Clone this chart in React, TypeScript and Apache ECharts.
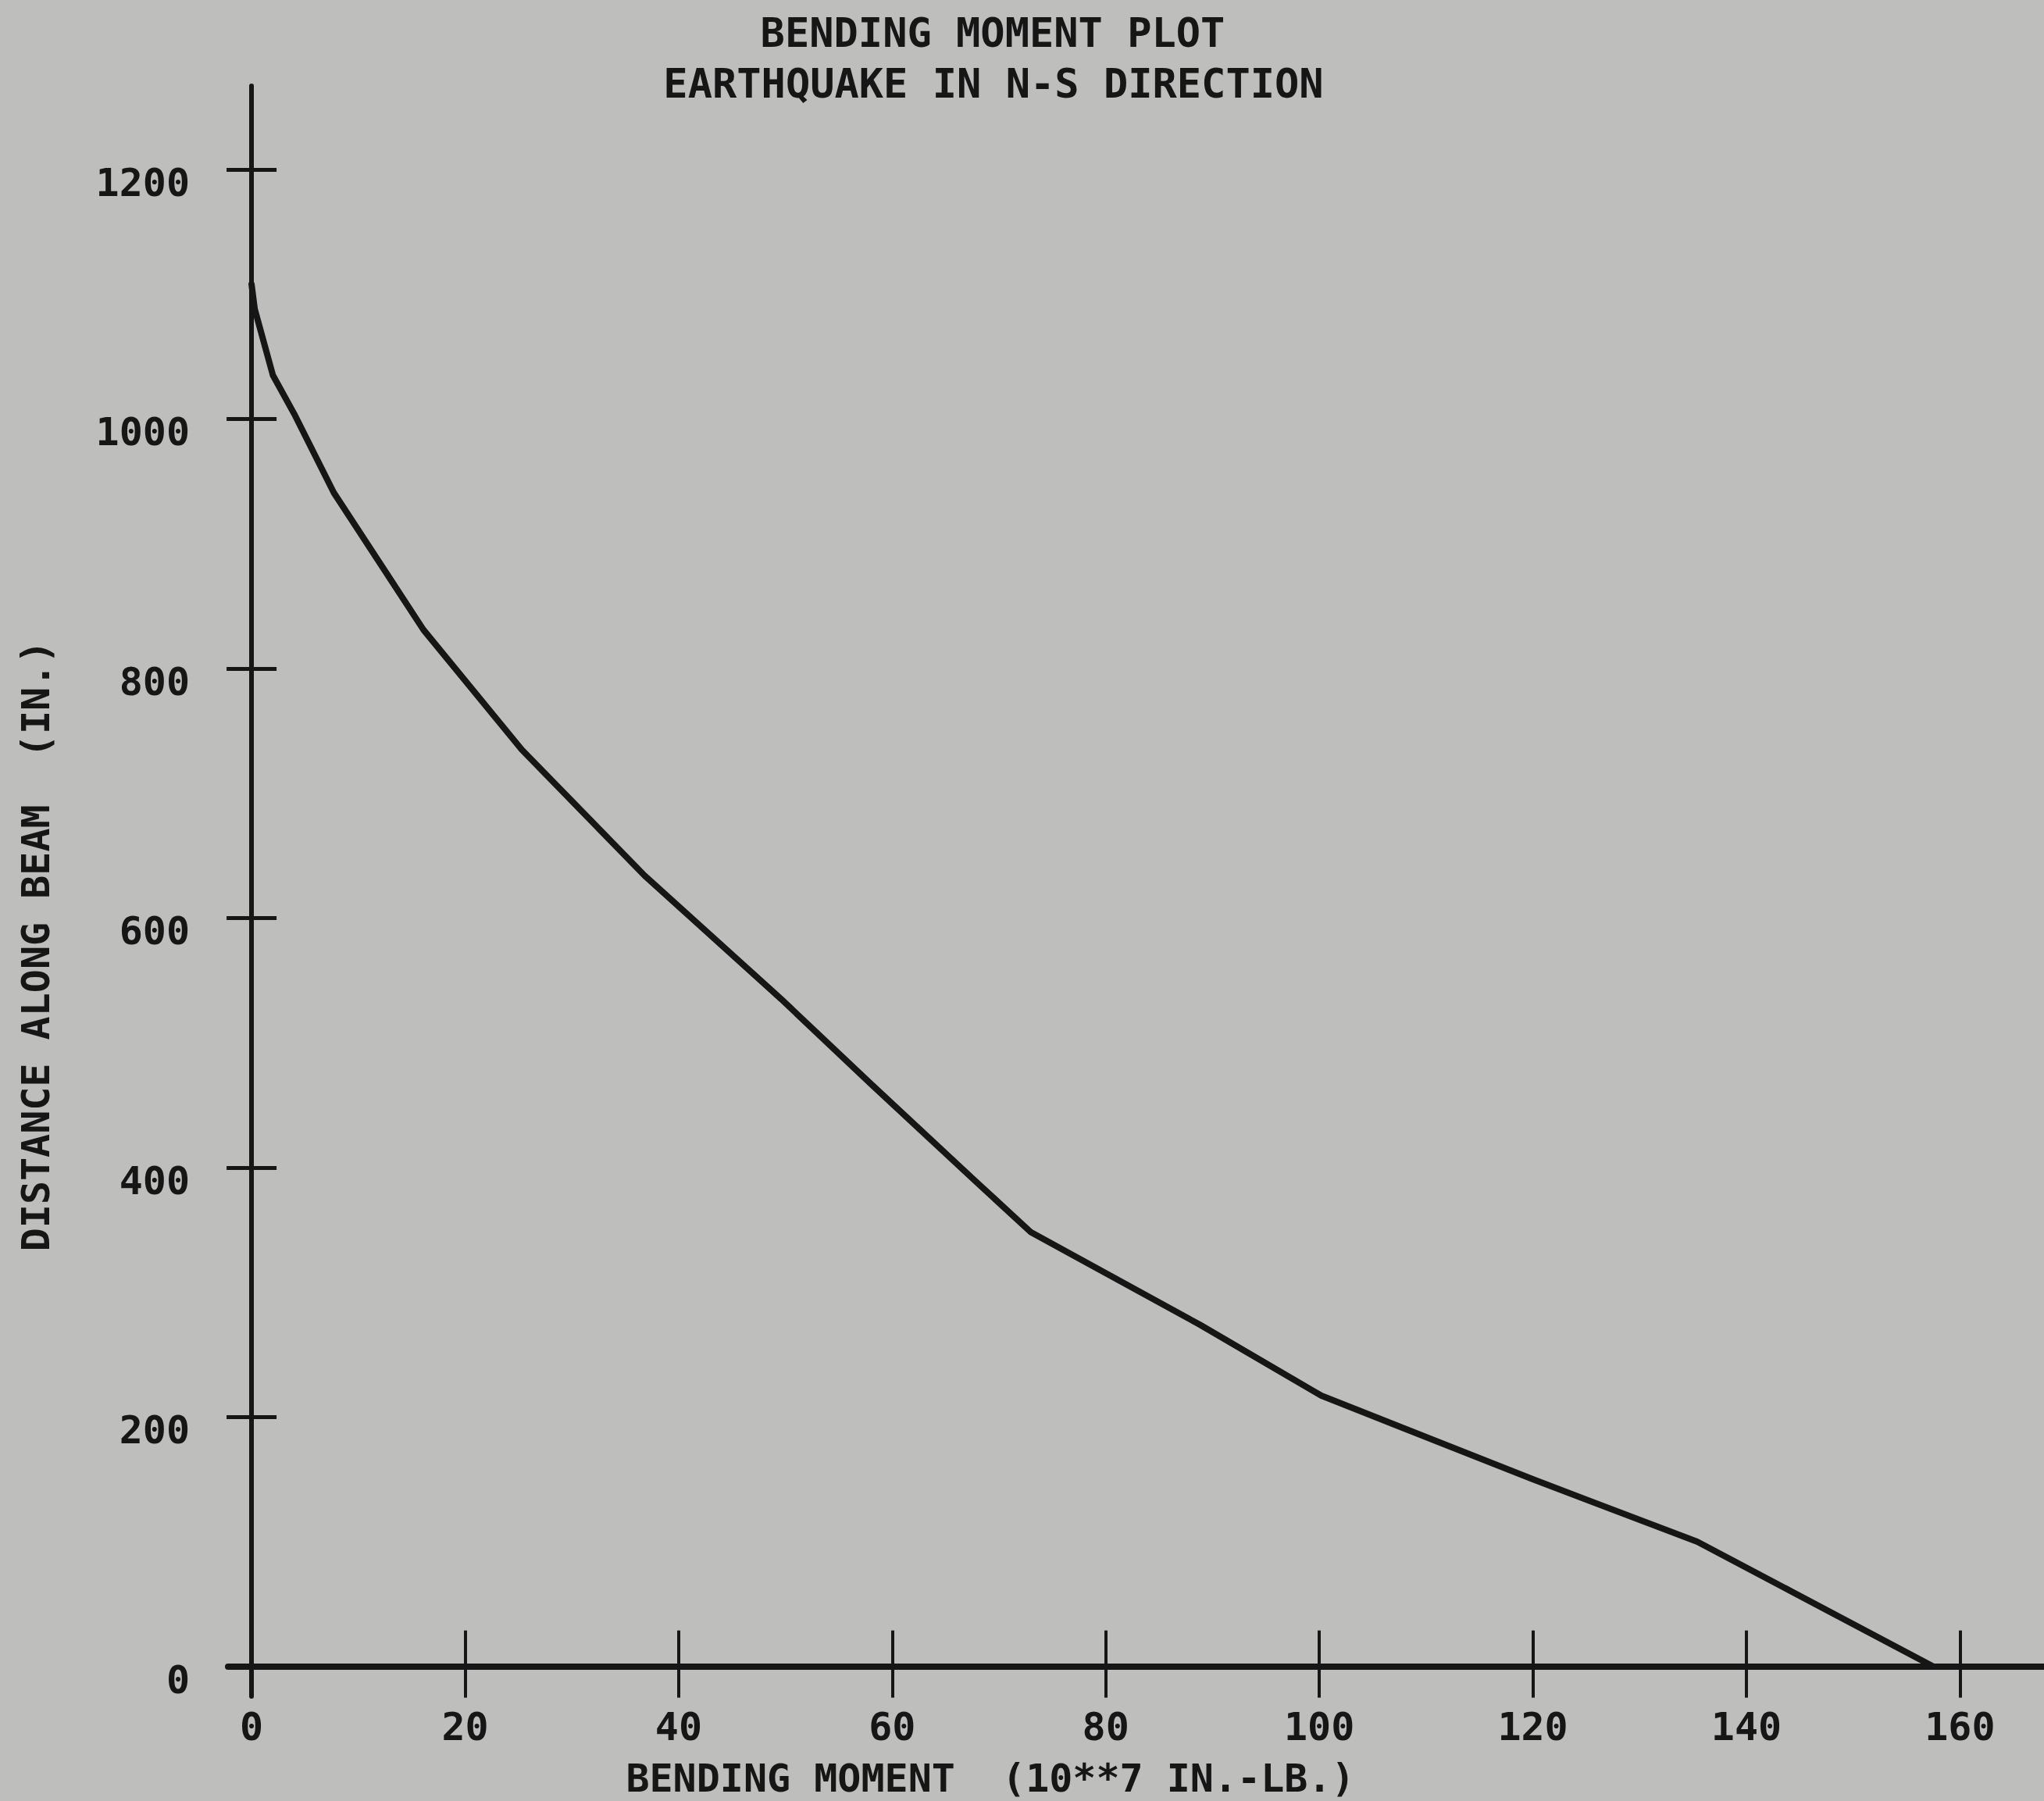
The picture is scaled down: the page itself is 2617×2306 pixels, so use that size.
import React, { useEffect, useRef } from "react";
import * as echarts from "echarts";

// Bending moment (10**7 in.-lb.) vs distance along beam (in.)
const momentValues = [0, 0.3, 2.0, 4.0, 7.7, 16.1, 25.3, 36.8, 49.6, 58.0, 67.8, 73.0, 88.8, 100.2, 120, 135.4, 157.5];
const distanceValues = [1108, 1088, 1035, 1004, 941, 831, 735, 634, 535, 467, 389, 348, 274, 217, 150, 100, 0];
const xTickValues = [0, 20, 40, 60, 80, 100, 120, 140, 160];
const yTickValues = [0, 200, 400, 600, 800, 1000, 1200];

const titleLine1 = "BENDING MOMENT PLOT";
const titleLine2 = "EARTHQUAKE IN N-S DIRECTION";
const xAxisTitle = "BENDING MOMENT  (10**7 IN.-LB.)";
const yAxisTitle = "DISTANCE ALONG BEAM  (IN.)";

const INK = "#161616";
const PAPER = "#bebebd";
const FONT = "DejaVu Sans Mono";

export default function App() {
  const ref = useRef<HTMLDivElement>(null);

  useEffect(() => {
    if (!ref.current) return;
    const chart = echarts.init(ref.current, null, { renderer: "svg" });

    const xMin = -2.2;
    const xMax = 167.8;
    const yMin = -24;
    const yMax = 1267;

    const labelStyle = {
      fontFamily: FONT,
      fontWeight: "bold" as const,
      fontSize: 50,
      color: INK,
      formatter: (v: number) => String(v),
    };

    const baseX = {
      type: "value" as const,
      min: xMin,
      max: xMax,
      position: "bottom" as const,
      splitLine: { show: false },
    };
    const baseY = {
      type: "value" as const,
      min: yMin,
      max: yMax,
      position: "left" as const,
      splitLine: { show: false },
    };

    chart.setOption({
      animation: false,
      backgroundColor: PAPER,
      grid: {
        left: 292,
        right: 1,
        top: 110,
        bottom: 134,
        containLabel: false,
        outerBoundsMode: "none",
      },
      xAxis: [
        {
          ...baseX,
          axisLine: { show: true, onZero: true, onZeroAxisIndex: 0, lineStyle: { color: INK, width: 8 } },
          axisTick: { show: true, inside: false, length: 40, customValues: xTickValues, lineStyle: { color: INK, width: 4 } },
          axisLabel: { ...labelStyle, customValues: xTickValues, margin: 14 },
        },
        {
          ...baseX,
          axisLine: { show: false, onZero: true, onZeroAxisIndex: 0 },
          axisTick: { show: true, inside: true, length: 46, customValues: xTickValues, lineStyle: { color: INK, width: 4 } },
          axisLabel: { show: false },
        },
      ],
      yAxis: [
        {
          ...baseY,
          axisLine: { show: true, onZero: true, onZeroAxisIndex: 0, lineStyle: { color: INK, width: 6 } },
          axisTick: { show: true, inside: false, length: 32, customValues: yTickValues, lineStyle: { color: INK, width: 5 } },
          axisLabel: { ...labelStyle, customValues: yTickValues, margin: 49, verticalAlign: "top", lineHeight: 34 },
        },
        {
          ...baseY,
          axisLine: { show: false, onZero: true, onZeroAxisIndex: 0 },
          axisTick: { show: true, inside: true, length: 32, customValues: yTickValues, lineStyle: { color: INK, width: 5 } },
          axisLabel: { show: false },
        },
      ],
      series: [
        {
          type: "line",
          xAxisIndex: 0,
          yAxisIndex: 0,
          data: momentValues.map((m, i) => [m, distanceValues[i]]),
          showSymbol: false,
          symbol: "none",
          clip: false,
          lineStyle: { color: INK, width: 8, join: "round", cap: "round" },
        },
      ],
      graphic: [
        {
          type: "text",
          x: 1271,
          y: 42,
          style: { text: titleLine1, fill: INK, font: `bold 52px "${FONT}"`, align: "center", verticalAlign: "middle" },
        },
        {
          type: "text",
          x: 1272,
          y: 107,
          style: { text: titleLine2, fill: INK, font: `bold 52px "${FONT}"`, align: "center", verticalAlign: "middle" },
        },
        {
          type: "text",
          x: 1268,
          y: 2277,
          style: { text: xAxisTitle, fill: INK, font: `bold 50px "${FONT}"`, align: "center", verticalAlign: "middle" },
        },
        {
          type: "text",
          x: 46,
          y: 1211,
          rotation: Math.PI / 2,
          style: { text: yAxisTitle, fill: INK, font: `bold 50px "${FONT}"`, align: "center", verticalAlign: "middle" },
        },
      ],
    });

    return () => chart.dispose();
  }, []);

  return (
    <div
      ref={ref}
      style={{ position: "absolute", left: 0, top: 0, width: 2617, height: 2306, background: PAPER }}
    />
  );
}
